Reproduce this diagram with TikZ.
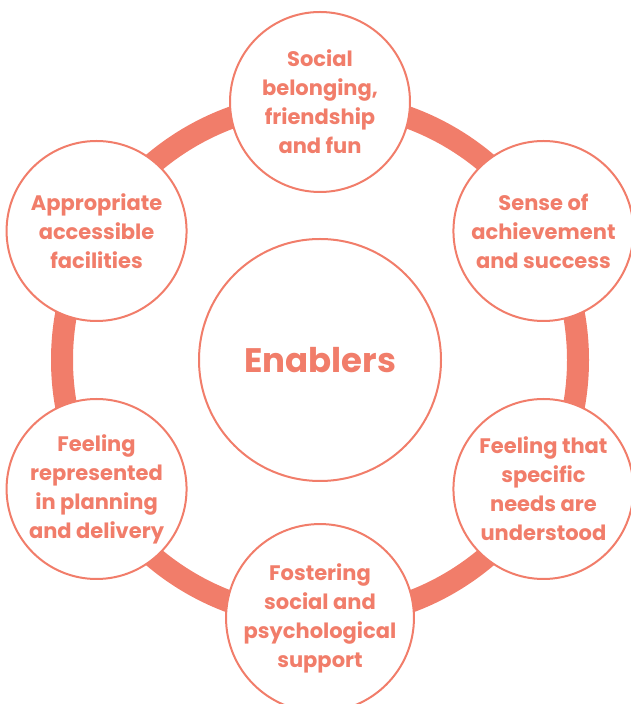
\documentclass[tikz,border=0pt]{standalone}
\usepackage{fontspec}
\setmainfont{Poppins}
\usetikzlibrary{positioning, calc}
\definecolor{salmon}{RGB}{241,125,106}

\begin{document}
\begin{tikzpicture}[
  x=1pt, y=1pt,
  ring/.style={draw=salmon, line width=22pt},
  enabler/.style={circle, draw=salmon, fill=white, line width=2pt, minimum size=180pt,
    inner sep=0pt, align=center, text=salmon, font=\bfseries\fontsize{21}{29}\selectfont},
  hub/.style={circle, draw=salmon, fill=white, line width=2pt, minimum size=242pt,
    inner sep=0pt, text=salmon, font=\bfseries\fontsize{34}{40}\selectfont}
]
\useasboundingbox (0,0) rectangle (631,704);

% thick ring behind the six circles
\coordinate (c) at (320,344);
\draw[ring] (c) circle[radius=258];

% centre
\node[hub] (hub) at (c) {Enablers};

% six enablers round the ring, clockwise from the top
\node[enabler] (e1) at ($(c)+(90:258)$)  {Social\\belonging,\\friendship\\and fun};
\node[enabler] (e2) at ($(c)+(30:258)$)  {Sense of\\achievement\\and success};
\node[enabler] (e3) at ($(c)+(-30:258)$) {Feeling that\\specific\\needs are\\understood};
\node[enabler] (e4) at ($(c)+(-90:258)$) {Fostering\\social and\\psychological\\support};
\node[enabler] (e5) at ($(c)+(210:258)$) {Feeling\\represented\\in planning\\and delivery};
\node[enabler] (e6) at ($(c)+(150:258)$) {Appropriate\\accessible\\facilities};

\end{tikzpicture}
\end{document}
